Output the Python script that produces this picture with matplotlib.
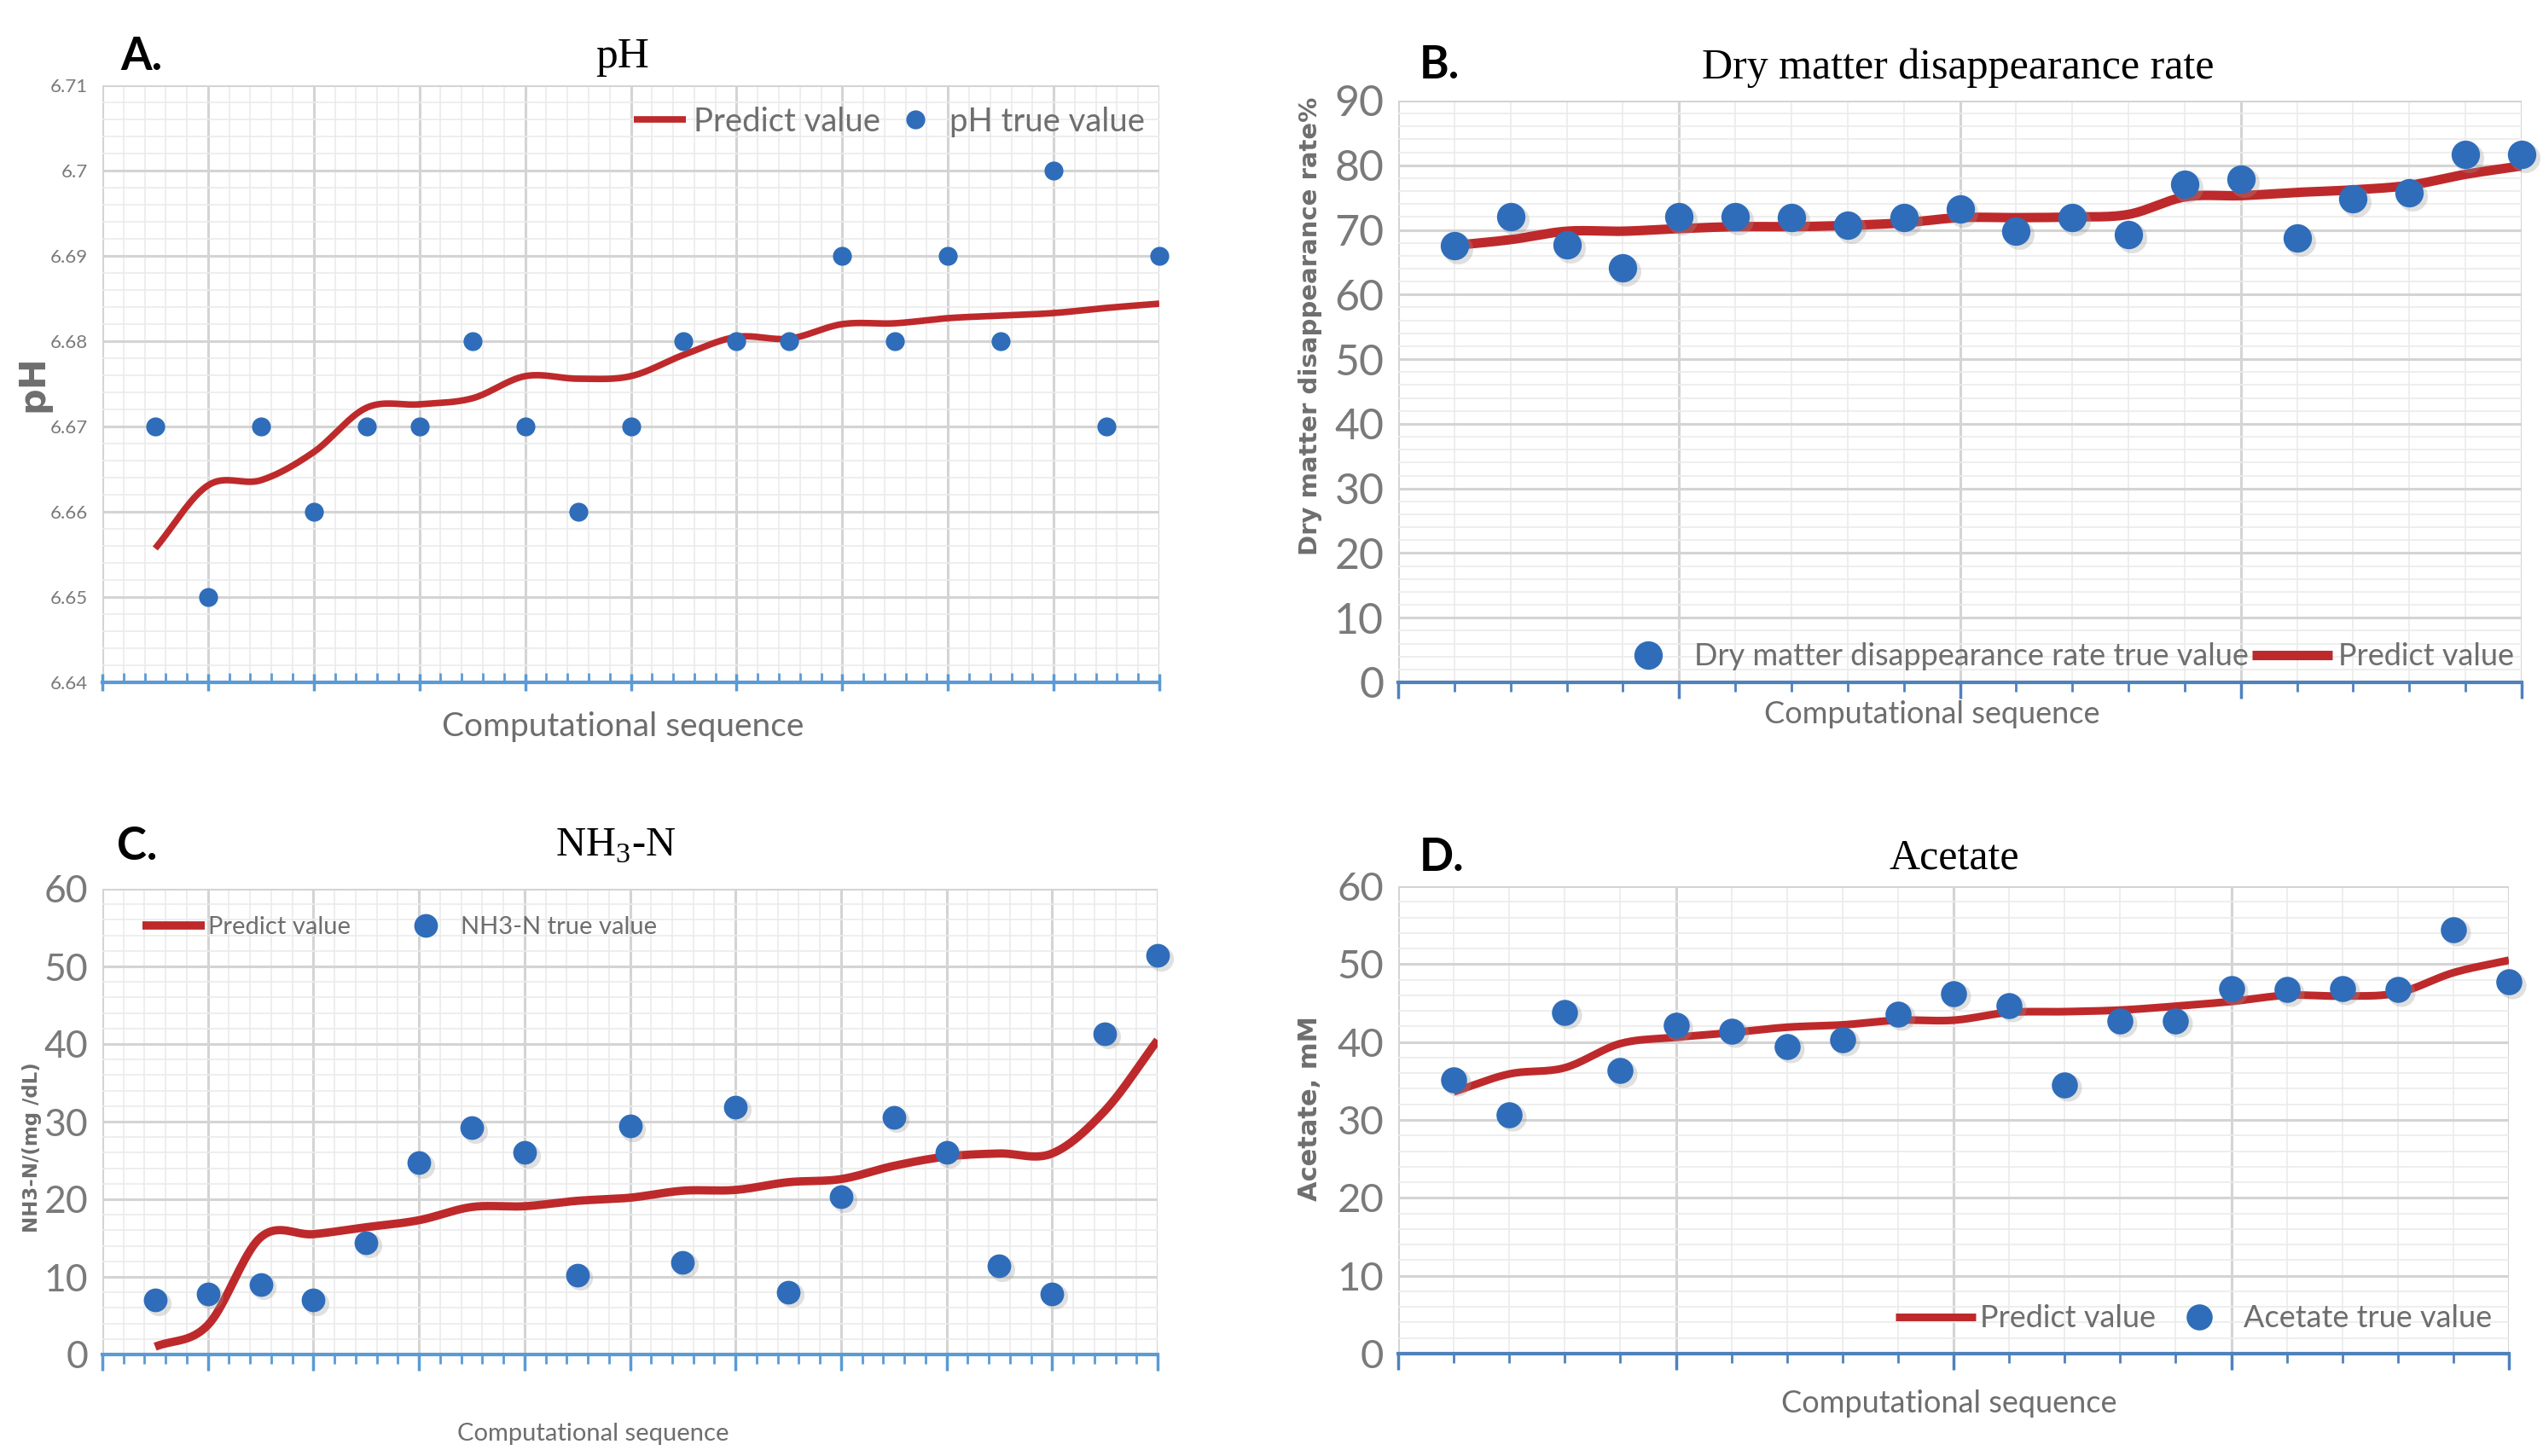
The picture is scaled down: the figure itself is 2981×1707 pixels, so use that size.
import numpy as np
import matplotlib
matplotlib.use("Agg")
import matplotlib.pyplot as plt
from matplotlib.ticker import MultipleLocator, NullFormatter, FuncFormatter

plt.rcParams['mathtext.fontset'] = 'custom'
plt.rcParams['mathtext.rm'] = 'Liberation Serif'

# ---------------- data ----------------
seq = list(range(1, 21))

ph_true = [6.67, 6.65, 6.67, 6.66, 6.67, 6.67, 6.68, 6.67, 6.66, 6.67,
           6.68, 6.68, 6.68, 6.69, 6.68, 6.69, 6.68, 6.70, 6.67, 6.69]
ph_pred = [6.6557, 6.6631, 6.6637, 6.6670, 6.6722, 6.6726, 6.6733, 6.6759, 6.6756, 6.6759,
           6.6784, 6.6805, 6.6803, 6.6820, 6.6821, 6.6827, 6.6830, 6.6833, 6.6839, 6.6844]

dm_true = [67.6, 72.0, 67.7, 64.1, 72.0, 72.1, 71.9, 70.7, 71.9, 73.2,
           69.8, 71.9, 69.3, 77.1, 77.9, 68.7, 74.8, 75.7, 81.7, 81.7]
dm_pred = [67.6, 68.5, 69.8, 69.8, 70.2, 70.5, 70.5, 70.7, 71.1, 71.9,
           71.9, 72.0, 72.4, 75.1, 75.3, 75.8, 76.2, 76.9, 78.6, 79.9]

nh_true = [7.0, 7.8, 9.0, 7.0, 14.4, 24.7, 29.2, 26.0, 10.2, 29.4,
           11.9, 31.9, 8.0, 20.3, 30.6, 26.0, 11.4, 7.8, 41.3, 51.4]
nh_pred = [1.0, 3.8, 15.1, 15.5, 16.4, 17.3, 19.0, 19.1, 19.8, 20.2,
           21.1, 21.2, 22.2, 22.6, 24.3, 25.5, 25.9, 25.9, 31.4, 40.5]

ac_true = [35.2, 30.7, 43.8, 36.3, 42.2, 41.4, 39.4, 40.3, 43.6, 46.2,
           44.7, 34.5, 42.7, 42.7, 46.9, 46.7, 46.9, 46.7, 54.4, 47.7]
ac_pred = [33.6, 35.9, 36.7, 39.8, 40.6, 41.2, 41.9, 42.2, 42.8, 42.8,
           43.8, 43.9, 44.1, 44.6, 45.2, 46.0, 45.9, 46.3, 48.9, 50.5]

titles = ["pH", "Dry matter disappearance rate", r"NH$_\mathrm{3}$-N", "Acetate"]
letters = ["A.", "B.", "C.", "D."]
ylabels = ["pH", "Dry matter disappearance rate%", "NH3-N/(mg /dL)", "Acetate, mM"]
xlabel = "Computational sequence"
true_names = ["pH true value", "Dry matter disappearance rate true value",
              "NH3-N true value", "Acetate true value"]
pred_name = "Predict value"


def smooth(x, y, n=20):
    """Catmull-Rom smoothing (like a spreadsheet 'smoothed line')."""
    x = np.asarray(x, float)
    y = np.asarray(y, float)
    px = np.concatenate([[2 * x[0] - x[1]], x, [2 * x[-1] - x[-2]]])
    py = np.concatenate([[2 * y[0] - y[1]], y, [2 * y[-1] - y[-2]]])
    xs, ys = [], []
    t = np.linspace(0, 1, n, endpoint=False)
    for i in range(1, len(px) - 2):
        for arr, out in ((px, xs), (py, ys)):
            p0, p1, p2, p3 = arr[i - 1], arr[i], arr[i + 1], arr[i + 2]
            out.extend(0.5 * ((2 * p1) + (-p0 + p2) * t +
                              (2 * p0 - 5 * p1 + 4 * p2 - p3) * t ** 2 +
                              (-p0 + 3 * p1 - 3 * p2 + p3) * t ** 3))
    xs.append(x[-1]); ys.append(y[-1])
    return np.array(xs), np.array(ys)


W, H = 2981, 1707
fig = plt.figure(figsize=(W / 100, H / 100), dpi=100)

def fx(px):
    return px / W

def fy(py):
    return 1 - py / H

# axes boxes in pixels: left, top, right, bottom
boxes = [(120, 100, 1359, 800), (1639, 118, 2956, 800),
         (120, 1042, 1357, 1588), (1639, 1039, 2941, 1587)]

cfg = [
    dict(true=ph_true, pred=ph_pred, ylim=(6.64, 6.71), ymaj=0.01, ymin=0.002,
         xmaj=2, xmin=0.4, tick_fs=16, lw=5.5, ms=16, order="pred_first",
         leg_loc="center right", leg_anchor=(0.986, 0.939), leg_fs=27.5,
         hl=1.6, htp=0.25, cs=0.25,
         ylab_fs=31, xlab_fs=28, ticks_dir="inout", axis_col="#5B9BD5"),
    dict(true=dm_true, pred=dm_pred, ylim=(0, 90), ymaj=10, ymin=2,
         xmaj=5, xmin=1, tick_fs=36, lw=8.0, ms=24, order="true_first",
         leg_loc="center right", leg_anchor=(0.993, 0.044), leg_fs=26,
         hl=2.6, htp=0.2, cs=0.1,
         ylab_fs=21, xlab_fs=26, ticks_dir="out", axis_col="#4F81BD"),
    dict(true=nh_true, pred=nh_pred, ylim=(0, 60), ymaj=10, ymin=2,
         xmaj=2, xmin=0.4, tick_fs=32, lw=7.0, ms=20, order="pred_first",
         leg_loc="center left", leg_anchor=(0.038, 0.918), leg_fs=21,
         hl=2.5, htp=0.15, cs=1.75,
         ylab_fs=16.5, xlab_fs=21, ticks_dir="out", axis_col="#5B9BD5"),
    dict(true=ac_true, pred=ac_pred, ylim=(0, 60), ymaj=10, ymin=2,
         xmaj=5, xmin=1, tick_fs=34, lw=6.5, ms=22, order="pred_first",
         leg_loc="center right", leg_anchor=(0.985, 0.075), leg_fs=26,
         hl=2.6, htp=0.15, cs=0.1,
         ylab_fs=22, xlab_fs=26, ticks_dir="out", axis_col="#4F81BD"),
]

title_pos = [(730, 67), (2295, 80), (722, 992), (2291, 1006)]
title_fs = [37, 36, 35, 36]
letter_pos = [(141, 67), (1664, 76), (137, 992), (1664, 1006)]
xlab_pos = [(730, 852), (2265, 838), (695, 1681), (2285, 1645)]
ylab_pos = [(38, 450), (1536, 382), (38, 1345), (1536, 1300)]

sans = ['Lato', 'DejaVu Sans']
red = "#BE2A2C"
blue = "#2F6DBB"
txtgray = "#6E6E6E"

for i, (box, c) in enumerate(zip(boxes, cfg)):
    l, t, r, b = box
    ax = fig.add_axes([fx(l), fy(b), fx(r) - fx(l), fy(t) - fy(b)])
    ax.set_xlim(0, 20)
    ax.set_ylim(*c["ylim"])
    ax.xaxis.set_major_locator(MultipleLocator(c["xmaj"]))
    ax.xaxis.set_minor_locator(MultipleLocator(c["xmin"]))
    ax.yaxis.set_major_locator(MultipleLocator(c["ymaj"]))
    ax.yaxis.set_minor_locator(MultipleLocator(c["ymin"]))
    ax.grid(True, which="major", color="#D4D4D4", lw=2.2)
    ax.grid(True, which="minor", color="#EBEBEB", lw=1.2)
    ax.set_axisbelow(True)
    for s in ("top", "right", "left"):
        ax.spines[s].set_visible(False)
    ax.spines["bottom"].set_color(c["axis_col"])
    ax.spines["bottom"].set_linewidth(3)
    ax.spines["bottom"].set_zorder(1)
    ax.xaxis.set_major_formatter(NullFormatter())
    ax.tick_params(axis="x", which="major", direction=c["ticks_dir"],
                   color=c["axis_col"], length=14, width=2.5)
    ax.tick_params(axis="x", which="minor",
                   direction="in" if c["ticks_dir"] == "inout" else "out",
                   color=c["axis_col"], length=8, width=2)
    ax.tick_params(axis="y", which="both", length=0, pad=12,
                   labelcolor="#7A7A7A", labelsize=c["tick_fs"])
    if i == 0:
        ax.yaxis.set_major_formatter(FuncFormatter(
            lambda v, p: ("%.2f" % v).rstrip("0").rstrip(".")))
    for lab in ax.get_yticklabels():
        lab.set_family(sans)

    sx, sy = smooth(seq, c["pred"])
    line, = ax.plot(sx, sy, color=red, lw=c["lw"], solid_capstyle="butt",
                    zorder=3, label=pred_name)
    pts, = ax.plot(seq, c["true"], "o", color=blue, ms=c["ms"], mec="none",
                   zorder=4, clip_on=False, label=true_names[i])
    if i > 0:
        # soft shadow under the markers
        ax.plot(np.array(seq) + 0.06, np.array(c["true"]) - (c["ylim"][1] * 0.006),
                "o", color="#9A9A9A", alpha=0.3, ms=c["ms"] * 1.05, mec="none",
                zorder=3.5, clip_on=False)

    handles = [line, pts] if c["order"] == "pred_first" else [pts, line]
    leg = ax.legend(handles=handles, loc=c["leg_loc"], bbox_to_anchor=c["leg_anchor"],
                    ncol=2, frameon=False, handlelength=c["hl"], handletextpad=c["htp"],
                    columnspacing=c["cs"], borderaxespad=0, borderpad=0,
                    prop=dict(family=sans, size=c["leg_fs"]))
    for txt in leg.get_texts():
        txt.set_color(txtgray)

    fig.text(fx(title_pos[i][0]), fy(title_pos[i][1]), titles[i],
             family="Liberation Serif", fontsize=title_fs[i], ha="center", va="center")
    fig.text(fx(letter_pos[i][0]), fy(letter_pos[i][1]), letters[i],
             family=sans, fontweight="bold", fontsize=38,
             ha="left", va="center")
    fig.text(fx(xlab_pos[i][0]), fy(xlab_pos[i][1]), xlabel,
             family=sans, fontsize=c["xlab_fs"], color=txtgray,
             ha="center", va="center")
    fig.text(fx(ylab_pos[i][0]), fy(ylab_pos[i][1]), ylabels[i],
             family="DejaVu Sans", fontweight="bold",
             fontsize=c["ylab_fs"], color=txtgray, rotation=90,
             ha="center", va="center")

fig.savefig("out.png", dpi=100, facecolor="white")
